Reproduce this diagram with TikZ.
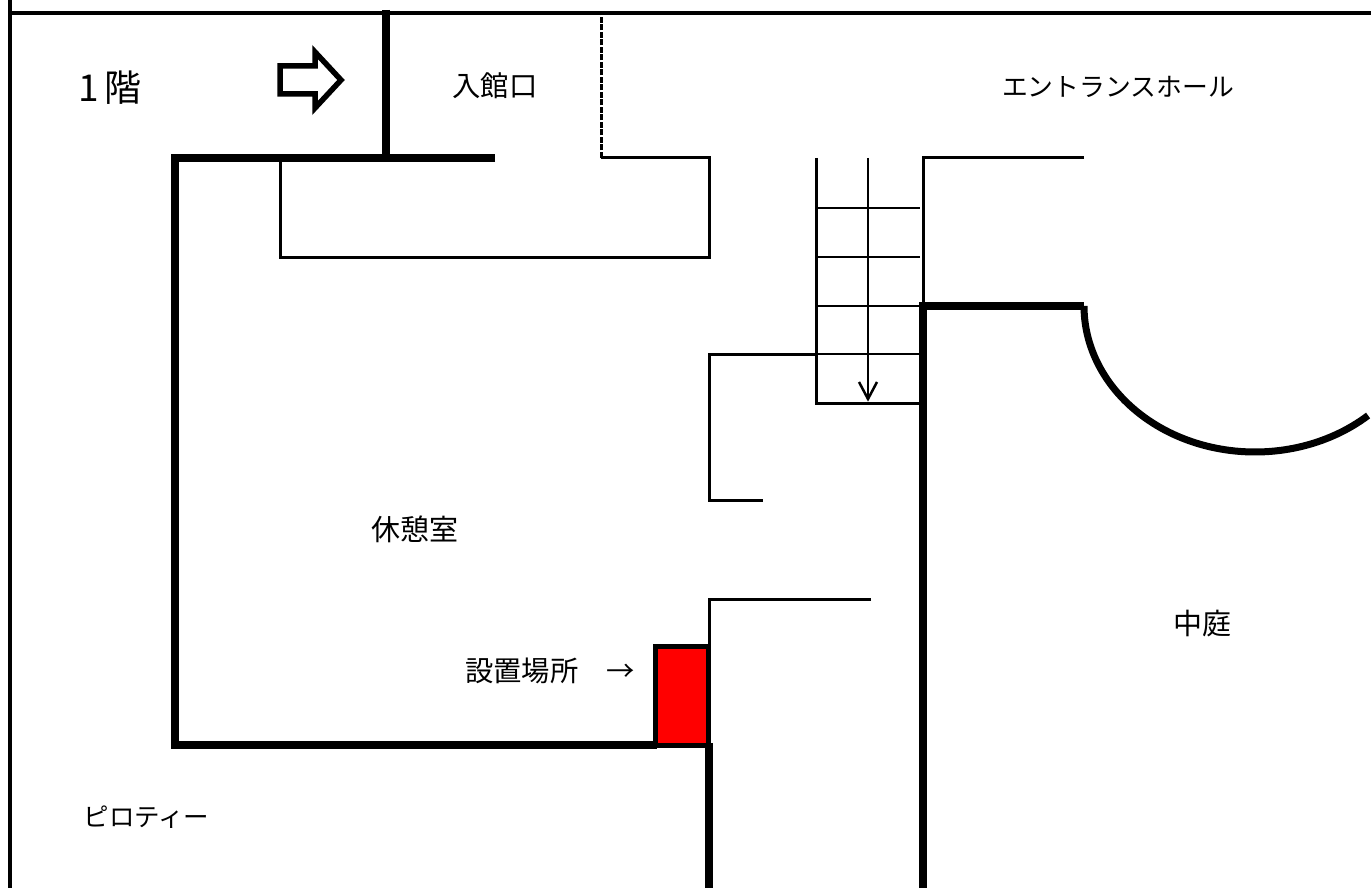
\documentclass[tikz,border=0pt]{standalone}
\usepackage{fontspec}
\newfontfamily\jp{Noto Sans CJK JP}
\tikzset{
 thickwall/.style={line width=8pt,line cap=butt,line join=miter},
 midwall/.style={line width=3pt,line join=miter},
 thinline/.style={line width=1.2pt},
 lbl/.style={inner sep=0pt,font=\jp\fontsize{29}{34}\selectfont},
}
\begin{document}
\begin{tikzpicture}[x=1pt,y=-1pt]
\useasboundingbox (0,0) rectangle (1371,888);
\draw[line width=4pt] (10,0) -- (10,888);
\draw[line width=4pt] (10,13) -- (1371,13);
\draw[thickwall,line width=7.5pt] (386,10) -- (386,158);
\draw[thickwall] (495,158) -- (175,158) -- (175,745) -- (657,745);
\draw[midwall] (280,158) -- (280,257) -- (709,257) -- (709,158) -- (601,158);
\draw[line width=3pt,dash pattern=on 6pt off 1.5pt] (601,158) -- (601,13);
\draw[midwall] (816,158) -- (816,403) -- (920,403);
\draw[midwall] (1084,158) -- (923,158) -- (923,306);
\foreach \yy in {208,257,306,354} \draw[thinline] (816,\yy) -- (920,\yy);
\draw[line width=2.4pt] (868,158) -- (868,400);
\draw[line width=2.5pt] (859,382) -- (868,399) -- (877,382);
\draw[thickwall] (1084,306) -- (923,306) -- (923,888);
\draw[line width=7pt] plot[domain=180:48.6,samples=80,variable=\a] ({1255+171*cos(\a)},{306+146*sin(\a)});
\draw[midwall] (816,354) -- (709,354) -- (709,500) -- (763,500);
\draw[midwall] (871,599) -- (709,599) -- (709,645);
\draw[line width=5pt,fill=red] (655.5,646.5) rectangle (708.5,745);
\draw[thickwall] (709,743) -- (709,888);
\draw[line width=5.5pt,miter limit=10] (280,66) -- (315,66) -- (315,52) -- (341,80) -- (315,108) -- (315,94) -- (280,94) -- cycle;
\node[lbl,font=\jp\fontsize{37}{42}\selectfont] (floor) at (110,88) {1\hspace{5pt}階};
\node[lbl,font=\jp\fontsize{28.3}{34}\selectfont] (entry) at (495,86) {入館口};
\node[lbl,font=\jp\fontsize{25.8}{30}\selectfont] (hall) at (1118,87) {エントランスホール};
\node[lbl] (rest) at (414.5,529) {休憩室};
\node[lbl] (court) at (1202,624) {中庭};
\node[lbl,font=\jp\fontsize{28.3}{34}\selectfont] (place) at (550,671) {設置場所　→};
\node[lbl,font=\jp\fontsize{25.5}{30}\selectfont] (pilo) at (146.5,817) {ピロティー};
\end{tikzpicture}
\end{document}
